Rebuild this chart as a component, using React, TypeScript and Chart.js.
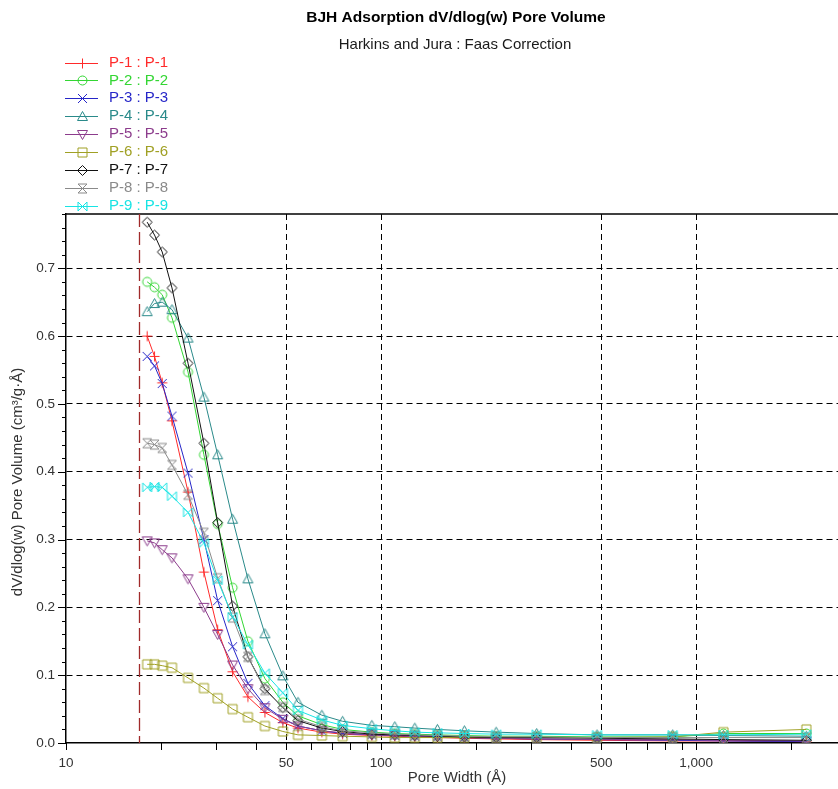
import React, { useEffect, useRef } from 'react';
import { Chart, registerables } from 'chart.js';

Chart.register(...registerables);

// ---- data ----
const poreWidth = [18.1, 19.1, 20.2, 21.7, 24.4, 27.4, 30.3, 33.8, 37.8, 42.8, 48.8, 54.5, 64.9, 75.5, 93.5, 110.6, 128, 151, 184, 232, 312, 485, 843, 1222, 2240];

const seriesNames = ['P-1 : P-1', 'P-2 : P-2', 'P-3 : P-3', 'P-4 : P-4', 'P-5 : P-5', 'P-6 : P-6', 'P-7 : P-7', 'P-8 : P-8', 'P-9 : P-9'];

const p1 = [0.600, 0.570, 0.531, 0.475, 0.370, 0.252, 0.167, 0.105, 0.068, 0.045, 0.030, 0.022, 0.016, 0.013, 0.011, 0.010, 0.009, 0.008, 0.007, 0.006, 0.005, 0.004, 0.003, 0.003, 0.002];
const p2 = [0.680, 0.672, 0.661, 0.627, 0.547, 0.425, 0.323, 0.229, 0.150, 0.095, 0.060, 0.040, 0.027, 0.020, 0.016, 0.014, 0.013, 0.012, 0.011, 0.010, 0.010, 0.009, 0.009, 0.014, 0.014];
const p3 = [0.570, 0.556, 0.530, 0.482, 0.398, 0.300, 0.210, 0.142, 0.088, 0.055, 0.036, 0.025, 0.018, 0.014, 0.012, 0.011, 0.010, 0.009, 0.008, 0.007, 0.006, 0.005, 0.004, 0.003, 0.002];
const p4 = [0.636, 0.648, 0.650, 0.639, 0.597, 0.510, 0.425, 0.330, 0.242, 0.161, 0.099, 0.060, 0.041, 0.032, 0.026, 0.024, 0.022, 0.020, 0.018, 0.016, 0.014, 0.012, 0.012, 0.011, 0.010];
const p5 = [0.298, 0.295, 0.285, 0.273, 0.242, 0.200, 0.160, 0.115, 0.080, 0.052, 0.035, 0.025, 0.018, 0.015, 0.012, 0.011, 0.010, 0.009, 0.008, 0.007, 0.006, 0.005, 0.005, 0.004, 0.003];
const p6 = [0.116, 0.116, 0.114, 0.111, 0.096, 0.081, 0.066, 0.050, 0.038, 0.025, 0.017, 0.012, 0.011, 0.010, 0.009, 0.008, 0.008, 0.008, 0.008, 0.008, 0.008, 0.008, 0.009, 0.016, 0.020];
const p7 = [0.768, 0.749, 0.724, 0.671, 0.560, 0.442, 0.325, 0.202, 0.127, 0.080, 0.052, 0.033, 0.022, 0.017, 0.013, 0.012, 0.011, 0.010, 0.009, 0.008, 0.008, 0.007, 0.006, 0.005, 0.004];
const p8 = [0.442, 0.440, 0.435, 0.410, 0.366, 0.310, 0.243, 0.185, 0.127, 0.078, 0.053, 0.035, 0.024, 0.018, 0.015, 0.013, 0.012, 0.011, 0.010, 0.009, 0.009, 0.008, 0.008, 0.008, 0.008];
const p9 = [0.377, 0.378, 0.377, 0.364, 0.340, 0.295, 0.240, 0.186, 0.145, 0.103, 0.074, 0.048, 0.034, 0.026, 0.021, 0.018, 0.016, 0.015, 0.014, 0.013, 0.013, 0.012, 0.012, 0.012, 0.013];

const seriesValues = [p1, p2, p3, p4, p5, p6, p7, p8, p9];
const seriesColors = ['#ff2a2a', '#33d633', '#2626c8', '#2a8a8a', '#8c3c8c', '#a0a024', '#111111', '#8a8a8a', '#18e4e4'];
const seriesShapes = ['plus', 'circle', 'x', 'tri', 'tridown', 'square', 'diamond', 'hourglass', 'bowtie'];

const xTickValues = [10, 20, 30, 40, 50, 60, 70, 80, 90, 100, 200, 300, 400, 500, 600, 700, 800, 900, 1000, 2000];
const xTickLabels: Record<number, string> = { 10: '10', 50: '50', 100: '100', 500: '500', 1000: '1,000' };
const xGridValues = [50, 100, 500, 1000];
const yTickValues = Array.from({ length: 40 }, (_, i) => Math.round(i * 2) / 100);
const yGridValues = [0.1, 0.2, 0.3, 0.4, 0.5, 0.6, 0.7];
const cutoffWidth = 17;

const titleText = 'BJH Adsorption dV/dlog(w) Pore Volume';
const subtitleText = 'Harkins and Jura : Faas Correction';
const xTitle = 'Pore Width (Å)';
const yTitle = 'dV/dlog(w) Pore Volume (cm³/g·Å)';

const FONT = '"Liberation Sans", Arial, sans-serif';

function makeMarker(shape: string, color: string): HTMLCanvasElement {
  const s = 13;
  const c = document.createElement('canvas');
  c.width = s;
  c.height = s;
  const g = c.getContext('2d')!;
  g.strokeStyle = color;
  g.lineWidth = 1;
  g.translate(s / 2, s / 2);
  g.beginPath();
  const r = 4.5;
  switch (shape) {
    case 'plus':
      g.moveTo(-r - 0.5, 0); g.lineTo(r + 0.5, 0);
      g.moveTo(0, -r - 0.5); g.lineTo(0, r + 0.5);
      break;
    case 'circle':
      g.arc(0, 0, r, 0, Math.PI * 2);
      break;
    case 'x':
      g.moveTo(-r, -r); g.lineTo(r, r);
      g.moveTo(r, -r); g.lineTo(-r, r);
      break;
    case 'tri':
      g.moveTo(0, -r - 0.5); g.lineTo(r + 0.5, r - 0.5); g.lineTo(-r - 0.5, r - 0.5); g.closePath();
      break;
    case 'tridown':
      g.moveTo(0, r + 0.5); g.lineTo(r + 0.5, -r + 0.5); g.lineTo(-r - 0.5, -r + 0.5); g.closePath();
      break;
    case 'square':
      g.rect(-r, -r, 2 * r, 2 * r);
      break;
    case 'diamond':
      g.moveTo(0, -r - 0.5); g.lineTo(r + 0.5, 0); g.lineTo(0, r + 0.5); g.lineTo(-r - 0.5, 0); g.closePath();
      break;
    case 'hourglass':
      g.moveTo(-r, -r); g.lineTo(r, -r); g.lineTo(-r, r); g.lineTo(r, r); g.closePath();
      break;
    case 'bowtie':
      g.moveTo(-r, -r); g.lineTo(r, r); g.lineTo(r, -r); g.lineTo(-r, r); g.closePath();
      break;
  }
  g.stroke();
  return c;
}

export default function App() {
  const ref = useRef<HTMLCanvasElement | null>(null);

  useEffect(() => {
    const canvas = ref.current;
    if (!canvas) return;
    const markers = seriesShapes.map((s, i) => makeMarker(s, seriesColors[i]));

    const decorPlugin = {
      id: 'decor',
      afterDraw(chart: any) {
        const { ctx, chartArea, scales } = chart;
        const xs = scales.x;
        const ys = scales.y;
        ctx.save();
        // top frame line
        ctx.strokeStyle = '#000';
        ctx.lineWidth = 1.5;
        ctx.beginPath();
        ctx.moveTo(chartArea.left, chartArea.top);
        ctx.lineTo(chartArea.right, chartArea.top);
        ctx.stroke();
        // tick marks
        ctx.lineWidth = 1;
        ctx.strokeStyle = '#000';
        ctx.beginPath();
        xTickValues.forEach((v) => {
          const px = Math.round(xs.getPixelForValue(v)) + 0.5;
          if (px < chartArea.left - 1 || px > chartArea.right + 1) return;
          ctx.moveTo(px, chartArea.bottom);
          ctx.lineTo(px, chartArea.bottom + 7);
        });
        yTickValues.forEach((v, i) => {
          const py = Math.round(ys.getPixelForValue(v)) + 0.5;
          const len = i % 5 === 0 ? 8 : 4;
          ctx.moveTo(chartArea.left - len, py);
          ctx.lineTo(chartArea.left, py);
        });
        ctx.stroke();
        // cutoff dashed line
        const cx = Math.round(xs.getPixelForValue(cutoffWidth)) + 0.5;
        ctx.strokeStyle = '#a02a2a';
        ctx.lineWidth = 1.3;
        ctx.setLineDash([13, 5]);
        ctx.beginPath();
        ctx.moveTo(cx, chartArea.top);
        ctx.lineTo(cx, chartArea.bottom);
        ctx.stroke();
        ctx.setLineDash([]);
        // titles
        ctx.fillStyle = '#000';
        ctx.textAlign = 'center';
        ctx.textBaseline = 'middle';
        ctx.font = `bold 15.5px ${FONT}`;
        ctx.fillText(titleText, 456, 18);
        ctx.fillStyle = '#1a1a1a';
        ctx.font = `15px ${FONT}`;
        ctx.fillText(subtitleText, 455, 45);
        // axis titles
        ctx.fillStyle = '#333';
        ctx.font = `15px ${FONT}`;
        ctx.fillText(xTitle, 457, 778);
        ctx.save();
        ctx.translate(18, 482);
        ctx.rotate(-Math.PI / 2);
        ctx.fillText(yTitle, 0, 0);
        ctx.restore();
        // legend
        ctx.textAlign = 'left';
        ctx.font = `15px ${FONT}`;
        seriesNames.forEach((name, i) => {
          const y = 62.5 + i * 17.9;
          ctx.strokeStyle = seriesColors[i];
          ctx.lineWidth = 1;
          ctx.beginPath();
          ctx.moveTo(65, Math.round(y) + 0.5);
          ctx.lineTo(98, Math.round(y) + 0.5);
          ctx.stroke();
          const m = markers[i];
          ctx.drawImage(m, 82 - m.width / 2 + 0.5, Math.round(y) - m.height / 2 + 0.5);
          ctx.fillStyle = seriesColors[i];
          ctx.fillText(name, 109, y);
        });
        ctx.restore();
      },
    };

    const chart = new Chart(canvas, {
      type: 'line',
      data: {
        datasets: seriesValues.map((vals, i) => ({
          label: seriesNames[i],
          data: vals.map((v, j) => ({ x: poreWidth[j], y: v })),
          borderColor: seriesColors[i],
          backgroundColor: 'transparent',
          borderWidth: 1,
          pointStyle: markers[i] as any,
          pointRadius: 5,
          tension: 0,
          order: 9 - i,
        })),
      },
      options: {
        responsive: false,
        animation: false,
        devicePixelRatio: 1,
        layout: { autoPadding: false, padding: { top: 214, left: 0, right: 0, bottom: 0 } },
        plugins: {
          legend: { display: false },
          title: { display: false },
          tooltip: { enabled: false },
        },
        scales: {
          x: {
            type: 'logarithmic',
            min: 10,
            max: 2823,
            afterBuildTicks: (s: any) => {
              s.ticks = xTickValues.map((v) => ({ value: v }));
            },
            afterFit: (s: any) => {
              s.height = 46;
              s.paddingLeft = 0;
              s.paddingRight = 0;
            },
            ticks: {
              autoSkip: false,
              maxRotation: 0,
              padding: 12,
              color: '#333',
              font: { family: FONT, size: 13.5 },
              callback: (v: any) => xTickLabels[Number(v)] ?? '',
            },
            grid: {
              drawTicks: false,
              lineWidth: 1,
              color: (c: any) => (xGridValues.includes(c.tick?.value) ? '#000' : 'rgba(0,0,0,0)'),
            },
            border: { display: true, color: '#000', width: 1.5, dash: [6, 4] },
          },
          y: {
            type: 'linear',
            min: 0,
            max: 0.78,
            afterBuildTicks: (s: any) => {
              s.ticks = yTickValues.map((v) => ({ value: v }));
            },
            afterFit: (s: any) => {
              s.width = 66;
              s.paddingTop = 0;
              s.paddingBottom = 0;
            },
            ticks: {
              autoSkip: false,
              padding: 11,
              color: '#333',
              font: { family: FONT, size: 13.5 },
              callback: (v: any) => {
                const n = Number(v);
                const k = Math.round(n * 100);
                return k % 10 === 0 ? (k / 100).toFixed(1) : '';
              },
            },
            grid: {
              drawTicks: false,
              lineWidth: 1,
              color: (c: any) => {
                const v = c.tick?.value;
                return yGridValues.some((g) => Math.abs(g - v) < 1e-6) ? '#000' : 'rgba(0,0,0,0)';
              },
            },
            border: { display: true, color: '#000', width: 1.5, dash: [6, 4] },
          },
        },
      },
      plugins: [decorPlugin],
    });

    return () => chart.destroy();
  }, []);

  return (
    <div style={{ position: 'absolute', left: 0, top: 0, width: 838, height: 789, background: '#fff' }}>
      <canvas ref={ref} width={838} height={789} style={{ display: 'block' }} />
    </div>
  );
}
